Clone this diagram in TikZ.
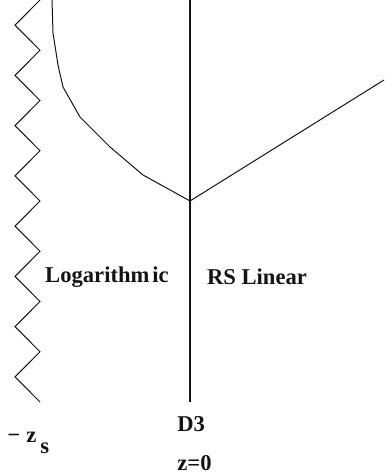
\documentclass[tikz,border=0pt]{standalone}
\usepackage{fontspec}
\setmainfont{Liberation Serif}
\usepackage{tikz}
\usetikzlibrary{positioning,calc}
\definecolor{inkblack}{RGB}{20,20,20}
\tikzset{
  base/.style={font=\bfseries\fontsize{11.3}{13}\selectfont, inner sep=0pt, text=inkblack},
  brane/.style={line width=0.6pt, draw=inkblack},
  wall/.style={line width=0.5pt, draw=inkblack, line join=miter},
  warp/.style={line width=0.5pt, draw=inkblack},
}
\begin{document}
\begin{tikzpicture}[x=0.5pt,y=-0.5pt]
  \useasboundingbox (0,0) rectangle (384,474);
  % D3 brane at z=0
  \coordinate (tip) at (190,201);
  \draw[brane] (190,0) -- (190,402);
  % singular wall at -z_s
  \draw[wall] (40,0) \foreach \k in {1,...,16}{ -- ({40-25*mod(\k,2)},{\k*25.125}) };
  % warp factor: logarithmic and linear parts
  \draw[warp] (52,0) -- (53,33) -- (58,65) -- (63,87) -- (80,117) -- (110,147) -- (143,175) -- (tip);
  \draw[warp] (tip) -- (384,80);
  % labels
  \node[base] (logreg) at (107,277) {Logarithm\hspace{1.5pt}ic};
  \node[base] (linreg) at (257,277) {RS Linear};
  \node[base,anchor=west] (dthree) at (177,424) {D3};
  \node[base,anchor=west] (zzero) at (177,463) {z=0};
  \node[base,anchor=west] (zsing) at (7,443) {−\hspace{3pt}z\hspace{2pt}\raisebox{-5.5pt}{s}};
\end{tikzpicture}
\end{document}
